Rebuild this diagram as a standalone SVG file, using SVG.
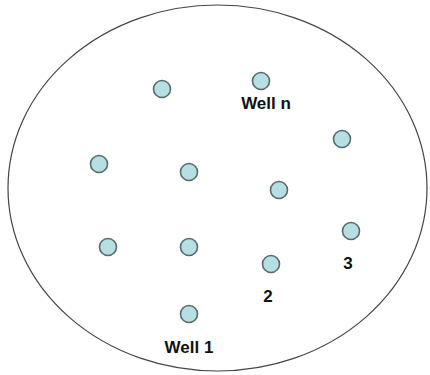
<svg xmlns="http://www.w3.org/2000/svg" width="430" height="375" viewBox="0 0 430 375">
<style>
.well{fill:#b5dfe2;stroke:#5a6a6a;stroke-width:1.6}
.lbl{font-family:"Liberation Sans",Arial,sans-serif;font-weight:bold;font-size:17px;fill:#111;text-anchor:middle}
</style>
<rect width="430" height="375" fill="#fff"/>
<g id="field">
<ellipse cx="217.5" cy="188" rx="209.5" ry="183" fill="none" stroke="#444" stroke-width="1.2"/>
</g>
<g id="connectors"></g>
<g id="well-a"><circle class="well" cx="162" cy="89" r="8.5"/></g>
<g id="well-n"><circle class="well" cx="261" cy="81" r="8.5"/><text class="lbl" x="266" y="109">Well n</text></g>
<g id="well-b"><circle class="well" cx="342" cy="139" r="8.5"/></g>
<g id="well-c"><circle class="well" cx="99" cy="164" r="8.5"/></g>
<g id="well-d"><circle class="well" cx="189" cy="172" r="8.5"/></g>
<g id="well-e"><circle class="well" cx="279" cy="190" r="8.5"/></g>
<g id="well-3"><circle class="well" cx="351" cy="231" r="8.5"/><text class="lbl" x="348" y="269">3</text></g>
<g id="well-f"><circle class="well" cx="108" cy="247" r="8.5"/></g>
<g id="well-g"><circle class="well" cx="189" cy="247" r="8.5"/></g>
<g id="well-2"><circle class="well" cx="271" cy="264" r="8.5"/><text class="lbl" x="268" y="302">2</text></g>
<g id="well-1"><circle class="well" cx="189" cy="314" r="8.5"/><text class="lbl" x="189" y="353">Well 1</text></g>
</svg>
